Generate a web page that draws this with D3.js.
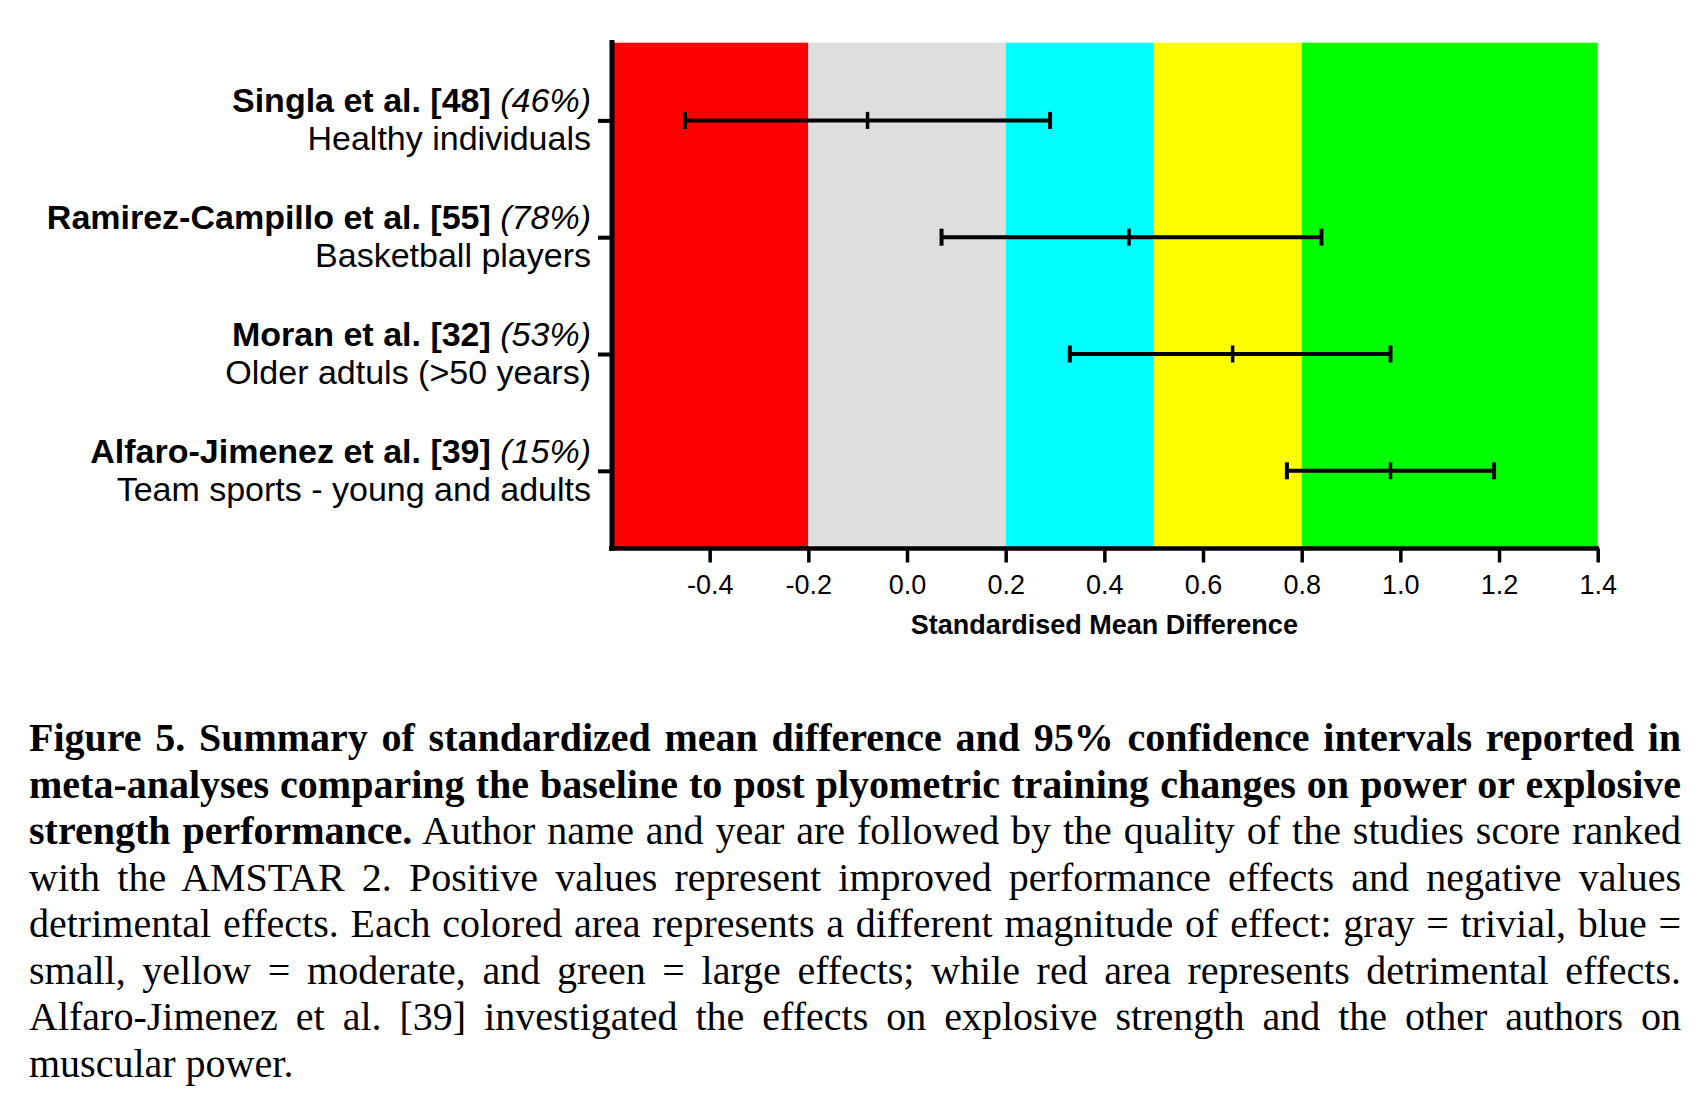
<!DOCTYPE html>
<html>
<head>
<meta charset="utf-8">
<script src="https://cdn.jsdelivr.net/npm/d3@7"></script>
<style>
  html, body { margin: 0; padding: 0; background: #fff; }
  svg { display: block; }
</style>
</head>
<body>
<div id="chart"></div>
<script>
// studies (one row each), top to bottom
const studies = ["Singla et al. [48]", "Ramirez-Campillo et al. [55]", "Moran et al. [32]", "Alfaro-Jimenez et al. [39]"];
const quality = ["(46%)", "(78%)", "(53%)", "(15%)"];
const populations = ["Healthy individuals", "Basketball players", "Older adtuls (>50 years)", "Team sports - young and adults"];

// standardised mean difference and 95% CI
const smd = [-0.08, 0.45, 0.66, 0.98];
const ciLow = [-0.45, 0.07, 0.33, 0.77];
const ciHigh = [0.29, 0.84, 0.98, 1.19];

// effect magnitude zones
const zoneBreaks = [-0.6, -0.2, 0.2, 0.5, 0.8, 1.4];
const zoneColors = ["#ff0000", "#dedede", "#00ffff", "#ffff00", "#00ff00"];

const xTicks = [-0.4, -0.2, 0.0, 0.2, 0.4, 0.6, 0.8, 1.0, 1.2, 1.4];

const width = 1706, height = 1096;
const sans = "'Liberation Sans', Arial, Helvetica, sans-serif";
const serif = "'Liberation Serif', 'Times New Roman', Times, serif";

const svg = d3.select('#chart')
    .append('svg')
    .attr('width', width)
    .attr('height', height);

const plotTop = 42.7, plotBottom = 548.5;

const x = d3.scaleLinear()
    .domain([zoneBreaks[0], zoneBreaks[zoneBreaks.length - 1]])
    .range([611, 1597.7]);

const y = d3.scalePoint()
    .domain(studies)
    .range([plotTop, plotBottom])
    .padding(0.665);

// coloured zones
const zones = d3.range(zoneColors.length).map(i => ({ from: zoneBreaks[i], to: zoneBreaks[i + 1], color: zoneColors[i] }));
svg.append('g')
    .selectAll('rect')
    .data(zones)
    .join('rect')
    .attr('x', d => x(d.from))
    .attr('y', plotTop)
    .attr('width', d => x(d.to) - x(d.from))
    .attr('height', plotBottom - plotTop)
    .attr('fill', d => d.color);

// error bars
const rows = studies.map((s, i) => ({ study: s, mid: smd[i], lo: ciLow[i], hi: ciHigh[i] }));
const bars = svg.append('g').selectAll('g').data(rows).join('g')
    .attr('transform', d => `translate(0,${y(d.study)})`);

bars.append('line')
    .attr('x1', d => x(d.lo)).attr('x2', d => x(d.hi))
    .attr('stroke', '#000').attr('stroke-width', 4);

const capH = 8.5;
['lo', 'hi'].forEach(k => {
    bars.append('line')
        .attr('x1', d => x(d[k])).attr('x2', d => x(d[k]))
        .attr('y1', -capH).attr('y2', capH)
        .attr('stroke', '#000').attr('stroke-width', 4);
});
bars.append('line')
    .attr('x1', d => x(d.mid)).attr('x2', d => x(d.mid))
    .attr('y1', -capH).attr('y2', capH)
    .attr('stroke', '#000').attr('stroke-width', 3.5);

// x axis
const fmt = d => d3.format('.1f')(d).replace('\u2212', '-');
const xAxis = svg.append('g')
    .attr('transform', `translate(0,${plotBottom})`)
    .call(d3.axisBottom(x).tickValues(xTicks).tickSize(14).tickSizeOuter(0).tickPadding(12).tickFormat(fmt));
xAxis.select('.domain').attr('stroke-width', 4.5).attr('stroke', '#000')
    .attr('d', `M${x.range()[0] - 2},0H${x.range()[1] + 1.5}`);
xAxis.selectAll('.tick line').attr('stroke-width', 3.5).attr('stroke', '#000');
xAxis.selectAll('.tick text')
    .attr('font-family', sans)
    .attr('font-size', 27)
    .attr('fill', '#000');

svg.append('text')
    .attr('x', (x.range()[0] + x.range()[1]) / 2)
    .attr('y', 634)
    .attr('text-anchor', 'middle')
    .attr('font-family', sans)
    .attr('font-size', 27)
    .attr('font-weight', 'bold')
    .text('Standardised Mean Difference');

// y axis
const yAxis = svg.append('g')
    .attr('transform', `translate(${x.range()[0] + 1},0)`)
    .call(d3.axisLeft(y).tickSize(14).tickSizeOuter(0).tickFormat(''));
yAxis.select('.domain').attr('stroke-width', 5).attr('stroke', '#000')
    .attr('d', `M0,40V${plotBottom + 2.2}`);
yAxis.selectAll('.tick line').attr('stroke-width', 4).attr('stroke', '#000');

// row labels: study (bold) + quality (italic) / population
const labelX = 591;
const labels = svg.append('g').selectAll('g').data(studies).join('g')
    .attr('transform', d => `translate(${labelX},${y(d)})`);
const first = labels.append('text')
    .attr('y', -8)
    .attr('text-anchor', 'end')
    .attr('font-family', sans)
    .attr('font-size', 34);
first.append('tspan').attr('font-weight', 'bold').text(d => d + ' ');
first.append('tspan').attr('font-style', 'italic').text((d, i) => quality[i]);
labels.append('text')
    .attr('y', 30)
    .attr('text-anchor', 'end')
    .attr('font-family', sans)
    .attr('font-size', 34)
    .text((d, i) => populations[i]);

// caption, justified line by line
const caption = [
    [["Figure 5. Summary of standardized mean difference and 95% confidence intervals reported in", true]],
    [["meta-analyses comparing the baseline to post plyometric training changes on power or explosive", true]],
    [["strength performance.", true], [" Author name and year are followed by the quality of the studies score ranked", false]],
    [["with the AMSTAR 2. Positive values represent improved performance effects and negative values", false]],
    [["detrimental effects. Each colored area represents a different magnitude of effect: gray = trivial, blue =", false]],
    [["small, yellow = moderate, and green = large effects; while red area represents detrimental effects.", false]],
    [["Alfaro-Jimenez et al. [39] investigated the effects on explosive strength and the other authors on", false]],
    [["muscular power.", false]]
];
const capLeft = 29, capRight = 1681, capTop = 751, capStep = 46.5;

caption.forEach((parts, li) => {
    const t = svg.append('text')
        .attr('x', capLeft)
        .attr('y', capTop + li * capStep)
        .attr('font-family', serif)
        .attr('font-size', 40)
        .attr('xml:space', 'preserve')
        .style('white-space', 'pre');
    parts.forEach(([s, b]) => {
        t.append('tspan').attr('font-weight', b ? 'bold' : 'normal').text(s);
    });
    if (li < caption.length - 1) {
        const natural = t.node().getComputedTextLength();
        const spaces = parts.map(p => p[0]).join('').split(' ').length - 1;
        t.attr('word-spacing', (capRight - capLeft - natural) / spaces);
    }
});
</script>
</body>
</html>
